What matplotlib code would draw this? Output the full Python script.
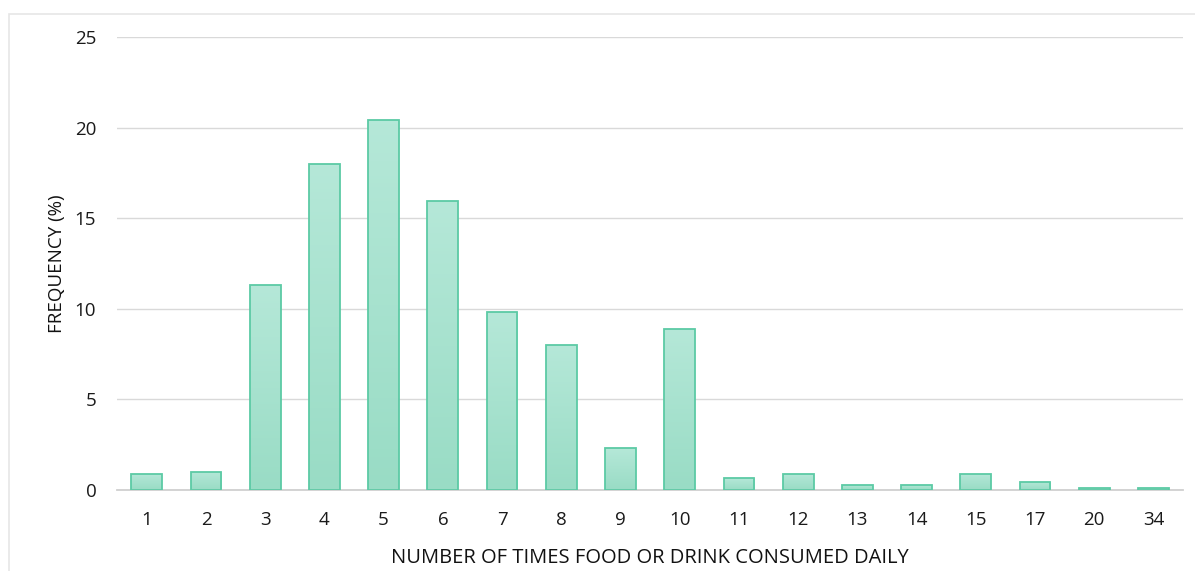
import matplotlib.pyplot as plt
import numpy as np
from matplotlib.patches import Rectangle
from matplotlib.colors import LinearSegmentedColormap

# frequency of eating occasions per day
times = ['1', '2', '3', '4', '5', '6', '7', '8', '9', '10',
         '11', '12', '13', '14', '15', '17', '20', '34']
freq = [0.9, 1.0, 11.3, 18.0, 20.4, 15.95, 9.8, 8.0, 2.3, 8.9,
        0.65, 0.9, 0.28, 0.28, 0.9, 0.45, 0.12, 0.12]

fig = plt.figure(figsize=(11.95, 5.71), dpi=100)
ax = fig.add_axes([0.098, 0.142, 0.892, 0.793])

# thin frame around the chart area
fig.patches.append(Rectangle((9 / 1195, -0.01), 1.0, (571 - 14) / 571 + 0.01,
                             transform=fig.transFigure, fill=False,
                             edgecolor='#e6e6e6', linewidth=1.2))

x = np.arange(len(times))
width = 0.52
grad = LinearSegmentedColormap.from_list('g', ['#99dcc5', '#b5e8d8'])
bars = ax.bar(x, freq, width=width, color='none', edgecolor='#5ccaa5',
              linewidth=1.3, zorder=3)
for b in bars:
    x0, y0 = b.get_x(), b.get_y()
    w, h = b.get_width(), b.get_height()
    im = ax.imshow(np.linspace(0, 1, 100).reshape(-1, 1), cmap=grad,
                   extent=[x0, x0 + w, y0, y0 + h], origin='lower',
                   aspect='auto', zorder=2)
    im.set_clip_path(b)

ax.set_xlim(-0.5, len(times) - 0.5)
ax.set_ylim(0, 25)
ax.set_yticks([0, 5, 10, 15, 20, 25])
ax.set_xticks(x)
ax.set_xticklabels(times)
ax.yaxis.grid(True, color='#d9d9d9', linewidth=1)
ax.set_axisbelow(True)
for s in ['top', 'right', 'left']:
    ax.spines[s].set_visible(False)
ax.spines['bottom'].set_color('#d0d0d0')
ax.spines['bottom'].set_linewidth(1.3)
ax.tick_params(axis='both', length=0, labelsize=13.5, colors='#1a1a1a')
ax.tick_params(axis='y', pad=15)
ax.tick_params(axis='x', pad=15)
for lab in ax.get_xticklabels() + ax.get_yticklabels():
    lab.set_fontfamily('Open Sans')

ax.set_xlabel('NUMBER OF TIMES FOOD OR DRINK CONSUMED DAILY',
              fontsize=14.5, family='Open Sans', color='#111111', labelpad=14)
ax.set_ylabel('FREQUENCY (%)', fontsize=13.5, family='Open Sans',
              color='#111111', labelpad=6)

fig.savefig('out.png', dpi=100)
